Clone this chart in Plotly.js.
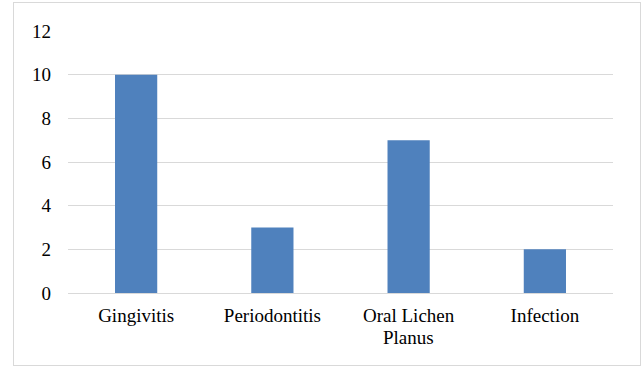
<!DOCTYPE html>
<html>
<head>
<meta charset="utf-8">
<script src="https://cdn.plot.ly/plotly-3.0.1.min.js"></script>
<style>
  html, body { margin: 0; padding: 0; background: #fff; }
  #wrap { position: relative; width: 642px; height: 368px; }
  #chart { position: absolute; left: 0; top: 0; width: 642px; height: 368px; }
  #frame { position: absolute; left: 13px; top: 2px; width: 626px; height: 362px;
           border: 1px solid #d9d9d9; pointer-events: none; }
</style>
</head>
<body>
<div id="wrap">
  <div id="chart"></div>
  <div id="frame"></div>
</div>
<script>
const categories = ["Gingivitis", "Periodontitis", "Oral Lichen Planus", "Infection"];
const counts = [10, 3, 7, 2];
const labelLine1 = ["Gingivitis", "Periodontitis", "Oral Lichen", "Infection"];
const labelLine2 = ["", "", "Planus", ""];
const yTicks = [0, 2, 4, 6, 8, 10, 12];

const font = { family: "Liberation Serif", size: 19, color: "#000" };

const secondLines = categories
  .map((c, i) => ({ c: c, t: labelLine2[i] }))
  .filter(d => d.t)
  .map(d => ({
    x: d.c, xref: "x",
    y: -0.17, yref: "paper",
    text: d.t, showarrow: false,
    xanchor: "center", yanchor: "middle",
    font: { family: "Liberation Serif", size: 19, color: "#000" }
  }));

Plotly.newPlot("chart", [{
  type: "bar",
  x: categories,
  y: counts,
  marker: { color: "#4f81bd", line: { width: 0 } },
  hoverinfo: "none"
}], {
  width: 642,
  height: 368,
  margin: { l: 68, r: 29, t: 31, b: 75 },
  paper_bgcolor: "rgba(0,0,0,0)",
  plot_bgcolor: "#fff",
  bargap: 0.69,
  showlegend: false,
  font: font,
  xaxis: {
    type: "category",
    tickvals: categories,
    ticktext: labelLine1,
    showgrid: false,
    showline: true,
    linecolor: "#d9d9d9",
    linewidth: 1,
    ticks: "",
    tickfont: { family: "Liberation Serif", size: 19, color: "#000" },
    ticklabelstandoff: 5,
    zeroline: false
  },
  yaxis: {
    range: [0, 12],
    tickvals: yTicks,
    ticktext: yTicks.map(String),
    showgrid: true,
    gridcolor: "#d9d9d9",
    gridwidth: 1,
    zeroline: false,
    showline: false,
    ticks: "",
    tickfont: { family: "Liberation Serif", size: 19, color: "#000" },
    ticklabelstandoff: 16
  },
  annotations: secondLines
}, { staticPlot: true, displayModeBar: false });
</script>
</body>
</html>
